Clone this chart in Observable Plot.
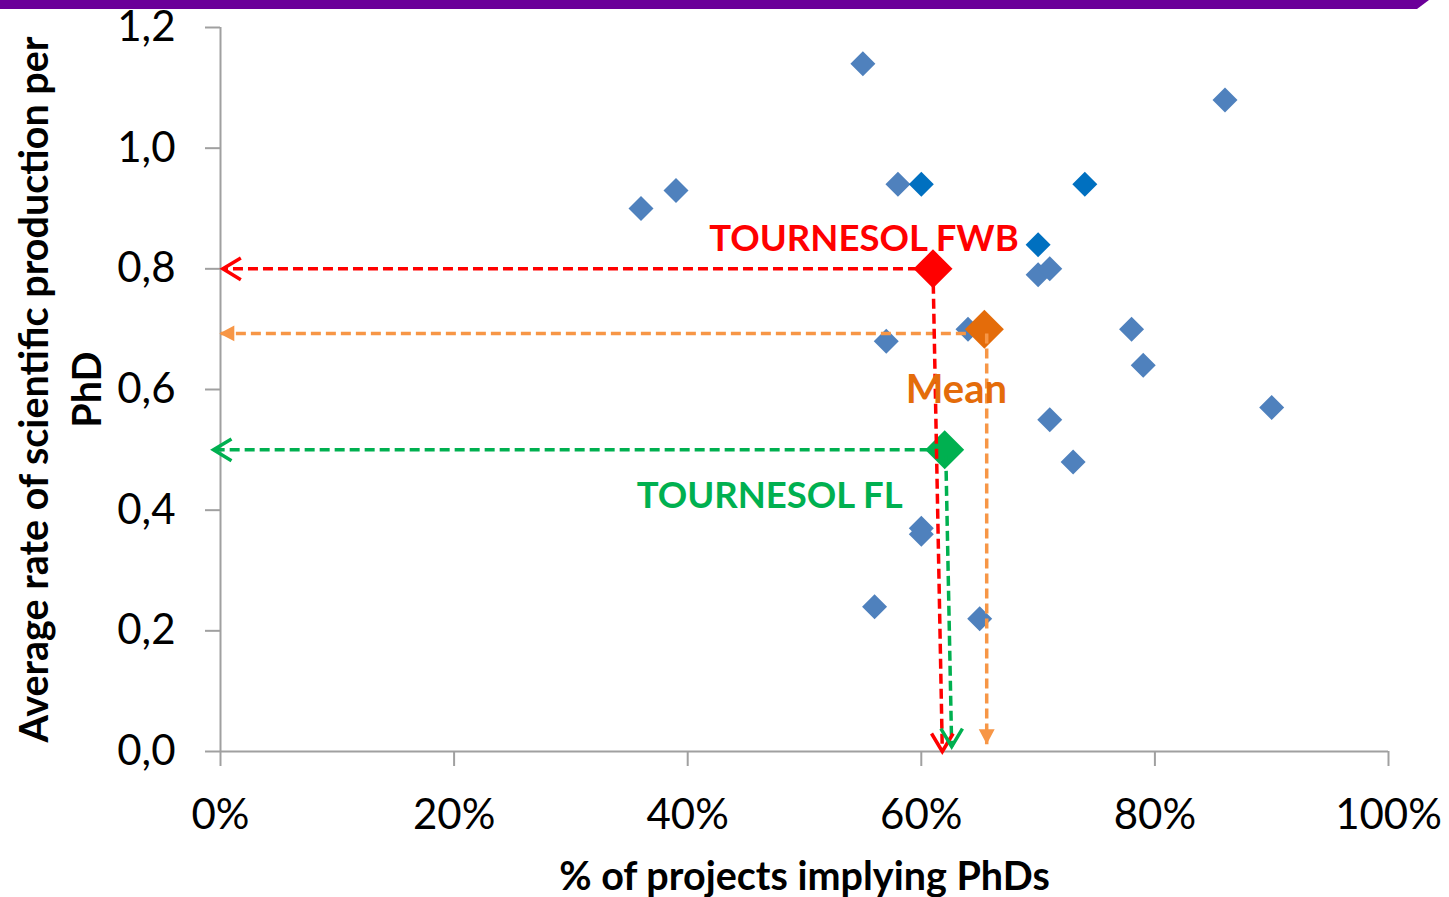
<!DOCTYPE html>
<html>
<head>
<meta charset="utf-8">
<script src="https://cdn.jsdelivr.net/npm/d3@7"></script>
<script src="https://cdn.jsdelivr.net/npm/@observablehq/plot@0.6"></script>
<style>
  html, body { margin: 0; padding: 0; background: #fff; }
  #wrap { position: relative; width: 1449px; height: 897px; overflow: hidden; }
  #bar { position: absolute; left: 0; top: 0; width: 1429px; height: 9px; background: #6B0099;
         clip-path: polygon(0 0, 1429px 0, 1417px 9px, 0 9px); }
  #chart { position: absolute; left: 0; top: 0; }
</style>
</head>
<body>
<div id="wrap"><div id="bar"></div><div id="chart"></div></div>
<script>
// ---- data ----
const pctBlue  = [55, 86, 58, 36, 39, 70, 71, 64, 57, 78, 79, 90, 71, 73, 60, 60, 56, 65];
const rateBlue = [1.14, 1.08, 0.94, 0.90, 0.93, 0.79, 0.80, 0.70, 0.68, 0.70, 0.64, 0.57, 0.55, 0.48, 0.37, 0.36, 0.24, 0.22];
const pctDark  = [60, 74, 70];
const rateDark = [0.94, 0.94, 0.84];

const hlNames = ["TOURNESOL FWB", "Mean", "TOURNESOL FL"];
const hlPct   = [61, 65.4, 62];
const hlRate  = [0.80, 0.70, 0.50];
// arrow guides
const hArrowY     = [0.80, 0.693, 0.50];
const hArrowFromX = [61, 65.1, 62];
const hArrowTipX  = [0.2, -0.1, -0.6];
const vArrowFromX = [61, 65.6, 62.1];
const vArrowToX   = [61.8, 65.6, 62.6];
const vArrowFromY = [0.80, 0.693, 0.49];
const vArrowTipY  = [0.0, 0.012, 0.008];

const xTicks = [0, 20, 40, 60, 80, 100];
const yTicks = [0, 0.2, 0.4, 0.6, 0.8, 1.0, 1.2];

const hlColors    = ["#FF0000", "#E46C0A", "#00B050"];
const arrowColors = ["#FF0000", "#F79646", "#00B050"];

// ---- tables ----
const blue = pctBlue.map((p, i) => ({p, r: rateBlue[i]}));
const dark = pctDark.map((p, i) => ({p, r: rateDark[i]}));
const hl = hlNames.map((n, i) => ({n, p: hlPct[i], r: hlRate[i], c: hlColors[i], ac: arrowColors[i],
  hy: hArrowY[i], hx1: hArrowFromX[i], hx2: hArrowTipX[i],
  vx1: vArrowFromX[i], vx2: vArrowToX[i], vy1: vArrowFromY[i], vy2: vArrowTipY[i]}));

// ---- custom symbols ----
const diamond = {draw(c, size) { const r = Math.sqrt(size / Math.PI); c.moveTo(0, -r); c.lineTo(r, 0); c.lineTo(0, r); c.lineTo(-r, 0); c.closePath(); }};
const chevLeft = {draw(c, size) { const r = Math.sqrt(size / Math.PI); c.moveTo(r, -0.6 * r); c.lineTo(0, 0); c.lineTo(r, 0.6 * r); }};
const chevDown = {draw(c, size) { const r = Math.sqrt(size / Math.PI); c.moveTo(-0.6 * r, -r); c.lineTo(0, 0); c.lineTo(0.6 * r, -r); }};
const triLeft = {draw(c, size) { const r = Math.sqrt(size / Math.PI); c.moveTo(0, 0); c.lineTo(r, -0.53 * r); c.lineTo(r, 0.53 * r); c.closePath(); }};
const triDown = {draw(c, size) { const r = Math.sqrt(size / Math.PI); c.moveTo(0, 0); c.lineTo(-0.53 * r, -r); c.lineTo(0.53 * r, -r); c.closePath(); }};

const FONT = "Lato, 'Open Sans', sans-serif";
const dash = "10,5";
const open = hl.filter((d, i) => i !== 1);
const mean = hl.filter((d, i) => i === 1);

const chart = Plot.plot({
  width: 1449, height: 897,
  marginLeft: 220, marginRight: 61, marginTop: 27, marginBottom: 146,
  style: {fontFamily: FONT, color: "#000", background: "transparent", overflow: "visible"},
  x: {domain: [0, 100]},
  y: {domain: [0, 1.2]},
  marks: [
    Plot.ruleY([0], {stroke: "#A0A0A0", strokeWidth: 2}),
    Plot.ruleX([0], {stroke: "#A0A0A0", strokeWidth: 2}),
    Plot.axisY({ticks: yTicks, tickSize: 15, tickPadding: 30, stroke: "#A0A0A0", strokeWidth: 2, strokeOpacity: 1,
      fontSize: 42, tickFormat: d => d.toFixed(1).replace(".", ","), label: null}),
    Plot.axisX({ticks: xTicks, tickSize: 15, tickPadding: 33, stroke: "#A0A0A0", strokeWidth: 2, strokeOpacity: 1,
      fontSize: 42, tickFormat: d => d + "%", label: null}),
    Plot.text(["% of projects implying PhDs"], {frameAnchor: "bottom", dy: 126, fontSize: 39.5, fontWeight: "bold", lineAnchor: "middle"}),
    Plot.text(["Average rate of scientific production per\nPhD"], {frameAnchor: "left", dx: -163, rotate: -90,
      fontSize: 39.5, fontWeight: "bold", lineAnchor: "middle", textAnchor: "middle", lineHeight: 1.34}),
    Plot.dot(blue, {x: "p", y: "r", symbol: diamond, r: 12.5, fill: "#4F81BD", stroke: "none"}),
    Plot.dot(dark, {x: "p", y: "r", symbol: diamond, r: 12.5, fill: "#0070C0", stroke: "none"}),
    Plot.link(hl, {x1: "hx1", y1: "hy", x2: "hx2", y2: "hy", stroke: "ac", strokeWidth: 3.5, strokeDasharray: dash}),
    Plot.dot(hl, {x: "p", y: "r", symbol: diamond, r: 19.5, fill: "c", stroke: "none"}),
    Plot.link(hl, {x1: "vx1", y1: "vy1", x2: "vx2", y2: "vy2", stroke: "ac", strokeWidth: 3.5, strokeDasharray: dash}),
    Plot.dot(open, {x: "hx2", y: "hy", symbol: chevLeft, r: 18, fill: "none", stroke: "ac", strokeWidth: 3.5}),
    Plot.dot(open, {x: "vx2", y: "vy2", symbol: chevDown, r: 18, fill: "none", stroke: "ac", strokeWidth: 3.5}),
    Plot.dot(mean, {x: "hx2", y: "hy", symbol: triLeft, r: 15, fill: "ac", stroke: "none"}),
    Plot.dot(mean, {x: "vx2", y: "vy2", symbol: triDown, r: 15, fill: "ac", stroke: "none"}),
    Plot.text(hl.filter((d, i) => i === 0), {x: "p", y: "r", text: "n", fill: "c", dx: -69, dy: -30, fontSize: 36.5, fontWeight: "bold"}),
    Plot.text(hl.filter((d, i) => i === 1), {x: "p", y: "r", text: "n", fill: "c", dx: -28, dy: 61, fontSize: 40, fontWeight: "bold"}),
    Plot.text(hl.filter((d, i) => i === 2), {x: "p", y: "r", text: "n", fill: "c", dx: -175, dy: 46, fontSize: 36.5, fontWeight: "bold"})
  ]
});
document.getElementById("chart").appendChild(chart);
</script>
</body>
</html>
